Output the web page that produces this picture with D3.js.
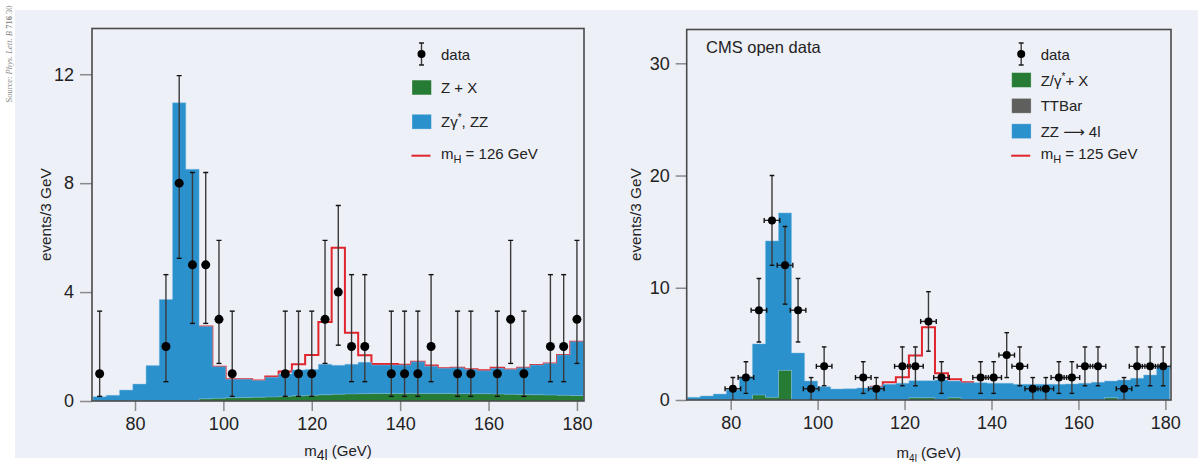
<!DOCTYPE html>
<html><head><meta charset="utf-8">
<script src="https://cdn.jsdelivr.net/npm/d3@7"></script>
<style>body{margin:0;background:#fff}svg{display:block}</style>
</head><body>
<svg id="chart" width="1198" height="468"></svg>
<script>
// ---------------- DATA ----------------
const BIN_WIDTH = 3; // GeV
// Left panel (Phys. Lett. B 716 30)
const leftBins = [72,75,78,81,84,87,90,93,96,99,102,105,108,111,114,117,120,123,126,129,132,135,138,141,144,147,150,153,156,159,162,165,168,171,174,177,180];
const leftZX = [0,0,0,0,0,0,0,0,0.08,0.10,0.12,0.13,0.14,0.15,0.17,0.19,0.21,0.23,0.25,0.26,0.27,0.28,0.28,0.28,0.28,0.28,0.28,0.27,0.27,0.27,0.26,0.25,0.24,0.23,0.22,0.21,0.20];
const leftZZ = [0.16,0.21,0.40,0.62,1.30,3.73,10.95,8.51,2.66,1.16,0.68,0.67,0.61,0.72,0.82,0.95,0.95,1.12,1.06,1.09,1.15,1.04,1.04,1.04,1.16,1.00,0.92,0.95,0.89,0.84,0.94,0.91,0.98,1.09,1.16,1.48,1.98];
const leftHiggs = [null,null,null,null,null,null,null,null,2.74,1.26,0.80,0.80,0.75,0.90,1.08,1.35,1.69,2.90,5.63,2.51,1.68,1.36,1.36,1.33,1.44,1.30,1.20,1.22,1.17,1.13,1.22,1.16,1.22,1.32,1.38,1.69,2.18];
const leftDataX = [72,87,90,93,96,99,102,114,117,120,123,126,129,132,138,141,144,147,153,156,162,165,168,174,177,180];
const leftDataN = [1,2,8,5,5,3,1,1,1,1,3,4,2,2,1,1,1,2,1,1,1,3,1,2,2,3];
const leftErrLo = [0.17,0.71,5.24,2.85,2.85,1.38,0.17,0.17,0.17,0.17,1.38,2.05,0.71,0.71,0.17,0.17,0.17,0.71,0.17,0.17,0.17,1.38,0.17,0.71,0.71,1.38];
const leftErrHi = [3.30,4.64,11.95,8.39,8.39,5.90,3.30,3.30,3.30,3.30,5.90,7.18,4.64,4.64,3.30,3.30,3.30,4.64,3.30,3.30,3.30,5.90,3.30,4.64,4.64,5.90];
const leftXTicks = [80,100,120,140,160,180];
const leftYTicks = [0,4,8,12];
const leftLegend = ["data","Z + X","Zγ*, ZZ","mH = 126 GeV"];

// Right panel (CMS open data)
const rightBins = [71.5,74.5,77.5,80.5,83.5,86.5,89.5,92.5,95.5,98.5,101.5,104.5,107.5,110.5,113.5,116.5,119.5,122.5,125.5,128.5,131.5,134.5,137.5,140.5,143.5,146.5,149.5,152.5,155.5,158.5,161.5,164.5,167.5,170.5,173.5,176.5,179.5];
const rightZX = [0,0,0,0,0,0.45,0.24,2.64,0,0,0,0,0,0,0,0,0,0.20,0.20,0,0.20,0,0,0,0,0,0,0,0,0,0,0,0.20,0,0,0,0];
const rightTT = [0,0,0,0,0,0,0,0,0,0,0,0,0,0,0,0,0,0,0,0,0,0,0,0,0,0,0,0,0,0,0,0,0,0,0,0,0];
const rightZZ = [0.24,0.36,0.53,0.89,2.05,4.55,13.93,14.03,4.19,1.69,1.19,0.98,1.00,1.07,1.19,1.40,1.49,1.52,1.52,1.78,1.49,1.54,1.54,1.49,1.49,1.40,1.40,1.40,1.40,1.43,1.49,1.58,1.49,1.78,1.93,2.23,3.03];
const rightHiggs = [null,null,null,null,null,null,null,null,null,null,null,null,null,null,1.19,1.58,2.03,3.97,6.49,2.38,1.84,1.58,null,null,null,null,null,null,null,null,null,null,null,null,null,null,null];
const rightDataX = [80.5,83.5,86.5,89.5,92.5,95.5,98.5,101.5,110.5,113.5,119.5,122.5,125.5,128.5,137.5,140.5,143.5,146.5,149.5,152.5,155.5,158.5,161.5,164.5,170.5,173.5,176.5,179.5];
const rightDataN = [1,2,8,16,12,8,1,3,2,1,3,3,7,2,2,2,4,3,1,1,2,2,3,3,1,3,3,3];
const rightErr = [1,1.41,2.83,4,3.46,2.83,1,1.73,1.41,1,1.73,1.73,2.65,1.41,1.41,1.41,2,1.73,1,1,1.41,1.41,1.73,1.73,1,1.73,1.73,1.73];
const rightXTicks = [80,100,120,140,160,180];
const rightYTicks = [0,10,20,30];
const rightLegend = ["data","Z/γ*+ X","TTBar","ZZ ⟶ 4l","mH = 125 GeV"];

// ---------------- STYLE ----------------
const C = {bg:"#eef0f8", blue:"#2b91cd", blueEdge:"#7fbbe2", green:"#267c35", gray:"#5f605d", red:"#e0262c", frame:"#4a4a4a", tick:"#8a8a8a", text:"#222"};
const FONT = "'Liberation Sans', Arial, 'DejaVu Sans', sans-serif";
const TICKFONT = "'Liberation Sans Narrow', 'Liberation Sans', Arial, sans-serif";

const svg = d3.select("#chart");
svg.append("rect").attr("x",15).attr("y",10).attr("width",1183).attr("height",448).attr("fill",C.bg);

// Source note
const src = svg.append("text").attr("transform","translate(11.5,54) rotate(-90)")
  .attr("text-anchor","middle").attr("font-family","'Liberation Serif', serif").attr("font-size",8.5).attr("fill","#858585");
src.append("tspan").text("Source: ");
src.append("tspan").attr("font-style","italic").text("Phys. Lett. B ");
src.append("tspan").attr("font-weight","bold").text("716");
src.append("tspan").text(" 30");

function richText(sel, label, subSize, supSize){
  if (label.startsWith("mH")) {
    sel.append("tspan").text("m");
    sel.append("tspan").attr("font-size",subSize).attr("dy",4).text("H");
    sel.append("tspan").attr("dy",-4).text(label.slice(2));
  } else if (label.includes("*")) {
    const i = label.indexOf("*");
    sel.append("tspan").text(label.slice(0,i));
    sel.append("tspan").attr("font-size",supSize).attr("dy",-6).text("*");
    sel.append("tspan").attr("dy",6).text(label.slice(i+1));
  } else sel.text(label);
}

function drawPanel(cfg){
  const x = d3.scaleLinear().domain(cfg.xDomain).range([cfg.left, cfg.right]);
  const y = d3.scaleLinear().domain(cfg.yDomain).range([cfg.bottom, cfg.top]);
  const g = svg.append("g");
  const clipId = "clip" + cfg.id;
  svg.append("clipPath").attr("id",clipId).append("rect")
    .attr("x",cfg.left).attr("y",cfg.top).attr("width",cfg.right-cfg.left).attr("height",cfg.bottom-cfg.top);
  const plot = g.append("g").attr("clip-path",`url(#${clipId})`);

  const rows = cfg.bins.map((b,i)=>{const r={bin:b}; cfg.layers.forEach(L=>r[L.key]=L.values[i]); return r;});
  const stack = d3.stack().keys(cfg.layers.map(L=>L.key))(rows);
  const stepPts = (series)=>{
    const pts=[]; series.forEach((d,i)=>{const b=cfg.bins[i]; pts.push({x:b-BIN_WIDTH/2,y0:d[0],y1:d[1]}); pts.push({x:b+BIN_WIDTH/2,y0:d[0],y1:d[1]});}); return pts;};
  const area = d3.area().x(d=>x(d.x)).y0(d=>y(d.y0)).y1(d=>y(d.y1));

  cfg.layers.forEach((L,li)=>{
    if (li === cfg.layers.length-1) {
      const hp=[]; cfg.higgs.forEach((v,i)=>{ const b=cfg.bins[i]; hp.push({x:b-BIN_WIDTH/2,v}); hp.push({x:b+BIN_WIDTH/2,v}); });
      plot.append("path").attr("d", d3.line().defined(d=>d.v!==null).x(d=>x(d.x)).y(d=>y(d.v))(hp))
        .attr("fill","none").attr("stroke",C.red).attr("stroke-width",2);
    }
    const p = plot.append("path").attr("d",area(stepPts(stack[li]))).attr("fill",L.color);
    if (L.edge) p.attr("stroke",L.edge).attr("stroke-width",0.8).attr("stroke-opacity",0.6);
  });

  const pts = plot.append("g");
  cfg.dataX.forEach((cx,i)=>{
    const n = cfg.dataN[i], lo = cfg.errLo[i], hi = cfg.errHi[i];
    const X = x(cx);
    pts.append("line").attr("x1",X).attr("x2",X).attr("y1",y(lo)).attr("y2",y(hi)).attr("stroke","#3a3a3a").attr("stroke-width",1.4);
    [lo,hi].forEach(v=>pts.append("line").attr("x1",X-cfg.cap).attr("x2",X+cfg.cap).attr("y1",y(v)).attr("y2",y(v)).attr("stroke","#111").attr("stroke-width",1.4));
    if (cfg.xErr) {
      const xa = X - cfg.xErr, xb = X + cfg.xErr;
      pts.append("line").attr("x1",xa).attr("x2",xb).attr("y1",y(n)).attr("y2",y(n)).attr("stroke","#222").attr("stroke-width",1.4);
      [xa,xb].forEach(xx=>pts.append("line").attr("x1",xx).attr("x2",xx).attr("y1",y(n)-2.5).attr("y2",y(n)+2.5).attr("stroke","#111").attr("stroke-width",1.4));
    }
    pts.append("circle").attr("cx",X).attr("cy",y(n)).attr("r",cfg.dotR).attr("fill","#000");
  });

  const ya = g.append("g").attr("transform",`translate(${cfg.left},0)`)
    .call(d3.axisLeft(y).tickValues(cfg.yTicks).tickSize(cfg.yTickLen).tickPadding(6).tickFormat(d3.format("d")));
  const xa = g.append("g").attr("transform",`translate(0,${cfg.bottom})`)
    .call(d3.axisBottom(x).tickValues(cfg.xTicks).tickSize(10).tickPadding(6).tickFormat(d3.format("d")));
  [ya,xa].forEach(a=>{
    a.select(".domain").remove();
    a.selectAll(".tick line").attr("stroke",C.tick).attr("stroke-width",1.5);
    a.selectAll(".tick text").attr("fill",C.text).attr("font-family",TICKFONT).attr("font-size",18);
  });

  g.append("rect").attr("x",cfg.left).attr("y",cfg.top).attr("width",cfg.right-cfg.left).attr("height",cfg.bottom-cfg.top)
    .attr("fill","none").attr("stroke",C.frame).attr("stroke-width",1.6);

  g.append("text").attr("transform",`translate(${cfg.yTitleX},${(cfg.top+cfg.bottom)/2}) rotate(-90)`)
    .attr("text-anchor","middle").attr("font-family",FONT).attr("font-size",15.3).attr("fill",C.text).text("events/3 GeV");
  const xt = g.append("text").attr("x",(cfg.left+cfg.right)/2).attr("y",cfg.xTitleY).attr("text-anchor","middle")
    .attr("font-family",FONT).attr("font-size",15).attr("fill",C.text);
  xt.append("tspan").text("m");
  xt.append("tspan").attr("font-size",cfg.subSize).attr("dy",4).text("4l");
  xt.append("tspan").attr("dy",-4).text(" (GeV)");

  if (cfg.note) g.append("text").attr("x",cfg.note.x).attr("y",cfg.note.y).attr("font-family",TICKFONT).attr("font-size",16.5).attr("fill",C.text).text(cfg.note.text);

  const lg = g.append("g");
  cfg.legend.forEach((lab,i)=>{
    const cy = cfg.legendY[i], kind = cfg.legendKinds[i];
    const sx = cfg.legendX;
    if (kind.type==="data"){
      const X = sx+9.5;
      lg.append("line").attr("x1",X).attr("x2",X).attr("y1",cy-11).attr("y2",cy+11).attr("stroke","#3a3a3a").attr("stroke-width",1.4);
      [cy-11,cy+11].forEach(v=>lg.append("line").attr("x1",X-2.5).attr("x2",X+2.5).attr("y1",v).attr("y2",v).attr("stroke","#111").attr("stroke-width",1.4));
      lg.append("circle").attr("cx",X).attr("cy",cy).attr("r",4).attr("fill","#000");
    } else if (kind.type==="rect"){
      lg.append("rect").attr("x",sx).attr("y",cy-7.4).attr("width",19.4).attr("height",14.8).attr("fill",kind.color)
        .attr("stroke","#ffffff").attr("stroke-opacity",0.35).attr("stroke-width",0.8);
    } else {
      lg.append("line").attr("x1",sx-0.5).attr("x2",sx+18.5).attr("y1",cy+1.9).attr("y2",cy+1.9).attr("stroke",C.red).attr("stroke-width",2);
    }
    const t = lg.append("text").attr("x",cfg.legendTextX).attr("y",cy+5.5).attr("font-family",FONT).attr("font-size",15).attr("fill",C.text);
    richText(t, lab, 11, 10);
  });
}

drawPanel({
  id:"L", left:92, right:584, top:28.5, bottom:401,
  xDomain:[70.27,181.6], yDomain:[0,13.68],
  bins:leftBins,
  layers:[{key:"zx",values:leftZX,color:C.green},{key:"zz",values:leftZZ,color:C.blue,edge:C.blueEdge}],
  higgs:leftHiggs,
  dataX:leftDataX, dataN:leftDataN, errLo:leftErrLo, errHi:leftErrHi,
  cap:2.5, dotR:4.5, xErr:0,
  xTicks:leftXTicks, yTicks:leftYTicks, yTickLen:12,
  yTitleX:51, xTitleY:456, subSize:14,
  legend:leftLegend, legendY:[54,87.5,121.7,153.8],
  legendKinds:[{type:"data"},{type:"rect",color:C.green},{type:"rect",color:C.blue},{type:"line"}],
  legendX:412, legendTextX:441
});

drawPanel({
  id:"R", left:686.7, right:1171, top:29.5, bottom:400,
  xDomain:[69.88,181.3], yDomain:[0,33.01],
  bins:rightBins,
  layers:[{key:"zx",values:rightZX,color:C.green},{key:"tt",values:rightTT,color:C.gray},{key:"zz",values:rightZZ,color:C.blue,edge:C.blueEdge}],
  higgs:rightHiggs,
  dataX:rightDataX, dataN:rightDataN,
  errLo:rightDataN.map((n,i)=>n-rightErr[i]), errHi:rightDataN.map((n,i)=>n+rightErr[i]),
  cap:2.3, dotR:4, xErr:7.8,
  xTicks:rightXTicks, yTicks:rightYTicks, yTickLen:11,
  yTitleX:641, xTitleY:458, subSize:10,
  note:{x:706, y:53, text:"CMS open data"},
  legend:rightLegend, legendY:[54,80,105.8,131.2,153.8],
  legendKinds:[{type:"data"},{type:"rect",color:C.green},{type:"rect",color:C.gray},{type:"rect",color:C.blue},{type:"line"}],
  legendX:1011.7, legendTextX:1040.7
});
</script>
</body></html>
